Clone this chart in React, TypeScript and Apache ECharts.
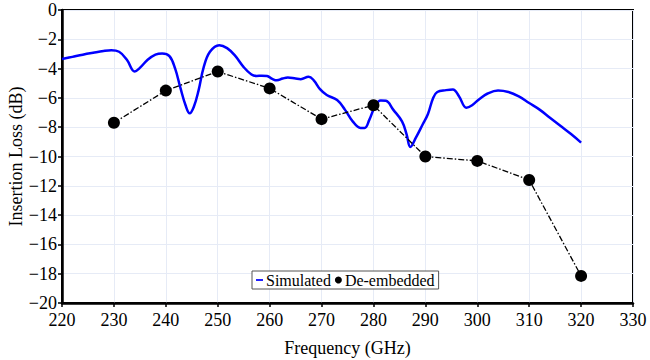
import React, { useEffect, useRef } from "react";
import * as echarts from "echarts";

const simFreq = [
  220, 222, 224, 226, 228, 229.5, 231, 232.5, 234, 235, 236.5, 238, 239.3, 240.7, 241.8, 242.8, 243.8,
  244.6, 245.4, 246.3, 247.3, 248.5, 250.3, 251.8, 253.3, 255, 256.5, 257.5, 258.5, 259.5, 260.5, 261.4,
  262.5, 263.5, 265, 266, 267.5, 268.5, 269.7, 271, 273, 274.5, 276, 277.5, 278.3, 279.2, 280.4, 281.4,
  282.4, 283.8, 285.5, 286.4, 287.1, 288.2, 289.5, 290.5, 291.5, 292.3, 294, 295.3, 296.5, 297.9, 299,
  300.5, 302, 304, 306, 308, 310, 312, 314, 316, 318, 320,
];
const simLoss = [
  -3.35, -3.2, -3.05, -2.92, -2.8, -2.75, -2.85, -3.4, -4.2, -3.95, -3.4, -3.05, -2.97, -3.15, -4.0, -5.3,
  -6.5, -7.05, -6.6, -5.5, -3.9, -2.85, -2.4, -2.6, -3.1, -3.9, -4.4, -4.5, -4.48, -4.5, -4.7, -4.8, -4.68,
  -4.6, -4.68, -4.72, -4.55, -4.8, -5.4, -5.8, -6.15, -6.8, -7.6, -8.05, -8.05, -7.5, -6.5, -6.18, -6.2,
  -6.8, -7.6, -8.5, -9.35, -8.7, -7.8, -7.1, -6.0, -5.6, -5.47, -5.42, -5.9, -6.67, -6.5, -6.05, -5.7,
  -5.5, -5.6, -5.9, -6.35, -6.8, -7.35, -7.9, -8.45, -9.05,
];
const deFreq = [230, 240, 250, 260, 270, 280, 290, 300, 310, 320];
const deLoss = [-7.7, -5.5, -4.2, -5.35, -7.45, -6.5, -10.0, -10.3, -11.6, -18.15];

const FONT = "Liberation Serif";

export default function App() {
  const ref = useRef<HTMLDivElement>(null);
  useEffect(() => {
    if (!ref.current) return;
    const chart = echarts.init(ref.current, undefined, { renderer: "svg" });
    chart.setOption({
      animation: false,
      backgroundColor: "#ffffff",
      textStyle: { fontFamily: FONT, fontSize: 18, color: "#000" },
      grid: {
        left: 62,
        right: 17,
        top: 10,
        bottom: 57,
        containLabel: false,
        outerBoundsMode: "none",
        show: true,
        borderColor: "#000",
        borderWidth: 2,
        backgroundColor: "transparent",
      },
      legend: {
        left: 252,
        top: 271,
        orient: "horizontal",
        backgroundColor: "#fff",
        borderColor: "#555",
        borderWidth: 1,
        borderRadius: 0,
        padding: [1, 4, 1, 4],
        itemGap: 4,
        itemWidth: 7,
        itemHeight: 7,
        textStyle: { fontFamily: FONT, fontSize: 16, color: "#000", padding: [0, 0, 0, -2] },
        data: [
          { name: "Simulated", icon: "path://M0,3L8,3L8,5L0,5Z" },
          { name: "De-embedded", icon: "circle" },
        ],
      },
      xAxis: {
        type: "value",
        min: 220,
        max: 330,
        interval: 10,
        name: "Frequency (GHz)",
        nameLocation: "middle",
        nameGap: 36,
        nameMoveOverlap: false,
        nameTextStyle: { fontFamily: FONT, fontSize: 18, color: "#000" },
        axisLine: { show: true, onZero: false, lineStyle: { color: "#000", width: 2.5 } },
        axisTick: { show: true, inside: false, length: 4, lineStyle: { color: "#000", width: 1.5 } },
        axisLabel: { fontFamily: FONT, fontSize: 18, color: "#000", margin: 8 },
        splitLine: { show: true, lineStyle: { color: "#e6ebf6", width: 1 } },
      },
      yAxis: {
        type: "value",
        min: -20,
        max: 0,
        interval: 2,
        name: "Insertion Loss (dB)",
        nameLocation: "middle",
        nameGap: 37,
        nameMoveOverlap: false,
        nameTextStyle: { fontFamily: FONT, fontSize: 18, color: "#000" },
        axisLine: { show: true, onZero: false, lineStyle: { color: "#000", width: 2.5 } },
        axisTick: { show: true, inside: false, length: 4, lineStyle: { color: "#000", width: 1.5 } },
        axisLabel: {
          fontFamily: FONT,
          fontSize: 18,
          color: "#000",
          margin: 5,
          formatter: (v: number) => String(v).replace("-", "\u2212"),
        },
        splitLine: { show: true, lineStyle: { color: "#e6ebf6", width: 1 } },
      },
      series: [
        {
          name: "Simulated",
          type: "line",
          data: simFreq.map((f, i) => [f, simLoss[i]]),
          showSymbol: false,
          smooth: 0.4,
          lineStyle: { color: "#0000ff", width: 2.5 },
          itemStyle: { color: "#0000ff" },
          z: 3,
        },
        {
          name: "De-embedded",
          type: "line",
          data: deFreq.map((f, i) => [f, deLoss[i]]),
          symbol: "circle",
          symbolSize: 12,
          showSymbol: true,
          lineStyle: { color: "#000", width: 1.3, type: [6, 2, 1.5, 2] },
          itemStyle: { color: "#000" },
          z: 4,
        },
      ],
    });
    return () => chart.dispose();
  }, []);
  return (
    <div
      ref={ref}
      style={{ position: "fixed", left: 0, top: 0, width: 650, height: 360 }}
    />
  );
}
